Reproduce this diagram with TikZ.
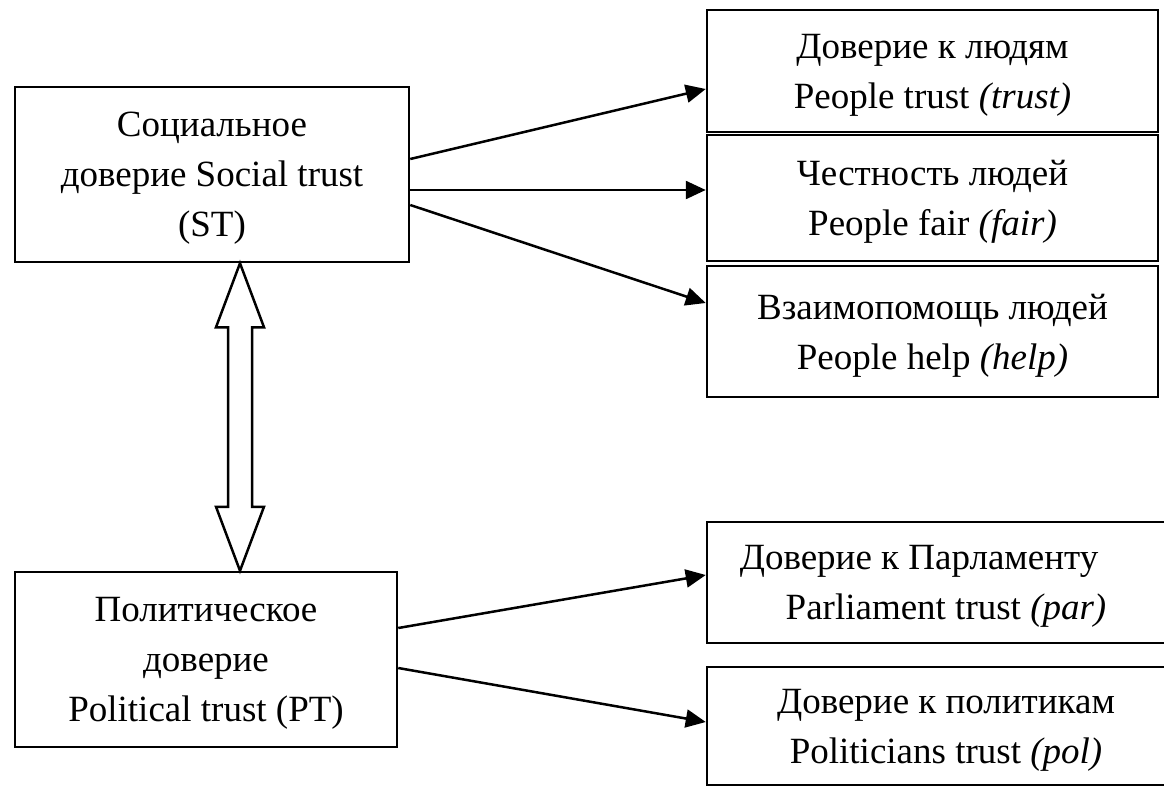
\documentclass[tikz,border=0pt]{standalone}
\usepackage{fontspec}
\setmainfont{Liberation Serif}
\usetikzlibrary{arrows.meta,calc}

\begin{document}
\begin{tikzpicture}[x=1pt,y=-1pt,
	box/.style={draw,line width=2.5pt,align=center,inner sep=0pt,text depth=-8pt,font=\fontsize{37}{50}\selectfont},
	link/.style={line width=2.5pt,-{Triangle[length=20pt,width=18pt]}}]
		\useasboundingbox (0,0) rectangle (1164,787);
		\clip (0,0) rectangle (1164,787);
		\draw[color=black]
		node[box,minimum width=394pt,minimum height=175pt] (st) at (212, 174.5){Социальное\\доверие Social trust\\(ST)}
		node[box,minimum width=382pt,minimum height=175pt] (pt) at (206, 659.5){Политическое\\доверие\\Political trust (PT)}
		node[box,minimum width=451pt,minimum height=122pt] (trust) at (932.5, 71){Доверие к людям\\People trust \textit{(trust)}}
		node[box,minimum width=451pt,minimum height=126pt] (fair) at  (932.5, 198){Честность людей\\People fair \textit{(fair)}}
		node[box,minimum width=451pt,minimum height=131pt] (help) at  (932.5, 331.5){Взаимопомощь людей\\People help \textit{(help)}}
		node[box,minimum width=478pt,minimum height=121pt] (par) at   (946, 582.5){Доверие к Парламенту\hspace*{54pt}\\Parliament trust \textit{(par)}}
		node[box,minimum width=478pt,minimum height=118pt] (pol) at   (946, 726){Доверие к политикам\\Politicians trust \textit{(pol)}};
		\draw [link] ($(st.east)+(0,-15.5)$) -- ($(trust.west)+(0,18)$);
		\draw [link] ($(st.east)+(0,15.5)$)  -- ($(fair.west)+(0,-8)$);
		\draw [link] ($(st.east)+(0,30.5)$)  -- ($(help.west)+(0,-28.5)$);
		\draw [link] ($(pt.east)+(0,-31.5)$) -- ($(par.west)+(0,-7.5)$);
		\draw [link] ($(pt.east)+(0,8.5)$)   -- ($(pol.west)+(0,-4)$);
		\coordinate (dtop) at (st.south -| 240,0);
		\coordinate (dbot) at (pt.north -| 240,0);
		\draw [line width=2.5pt,line join=miter,fill=white] (dtop) -- ($(dtop)+(24,64)$) -- ($(dtop)+(12,64)$) -- ($(dbot)+(12,-64)$) -- ($(dbot)+(24,-64)$)
			-- (dbot) -- ($(dbot)+(-24,-64)$) -- ($(dbot)+(-12,-64)$) -- ($(dtop)+(-12,64)$) -- ($(dtop)+(-24,64)$) -- cycle;
		\end{tikzpicture}
\end{document}
